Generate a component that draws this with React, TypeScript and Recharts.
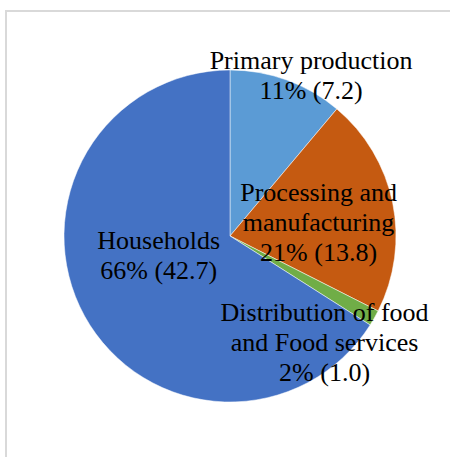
import React from "react";
import { PieChart, Pie, Cell } from "recharts";

const categories = [
  "Primary production",
  "Processing and manufacturing",
  "Distribution of food and Food services",
  "Households",
];
const values = [7.2, 13.8, 1.0, 42.7];
const colors = ["#5B9BD5", "#C55A11", "#70AD47", "#4472C4"];

// label line wrapping (styling)
const labelLines: string[][] = [
  ["Primary production"],
  ["Processing and", "manufacturing"],
  ["Distribution of food", "and Food services"],
  ["Households"],
];
// label offsets relative to the centroid at 0.6 radius (styling)
const labelOffsets = [
  { dx: 47, dy: -73 },
  { dx: -9, dy: -15 },
  { dx: 8, dy: 36 },
  { dx: 16, dy: -35 },
];

const total = values.reduce((a, b) => a + b, 0);
const data = categories.map((name, i) => ({ name, value: values[i] }));

const RAD = Math.PI / 180;
const FONT = "'Liberation Serif', 'Times New Roman', serif";

const renderLabel = (props: any) => {
  const { cx, cy, outerRadius, midAngle, index, value } = props;
  const r = outerRadius * 0.6;
  const bx = cx + r * Math.cos(-midAngle * RAD);
  const by = cy + r * Math.sin(-midAngle * RAD);
  const off = labelOffsets[index];
  const x = bx + off.dx;
  const y = by + off.dy;
  const pct = Math.round((value / total) * 100);
  const lines = [...labelLines[index], `${pct}% (${value.toFixed(1)})`];
  return (
    <text
      key={`lbl-${index}`}
      x={x}
      y={y}
      textAnchor="middle"
      fill="#000"
      fontFamily={FONT}
      fontSize={26}
    >
      {lines.map((l, k) => (
        <tspan key={k} x={x} y={y + k * 30}>
          {l}
        </tspan>
      ))}
    </text>
  );
};

export default function App() {
  return (
    <div
      style={{
        position: "absolute",
        left: 0,
        top: 0,
        width: 450,
        height: 457,
        overflow: "hidden",
        background: "#fff",
      }}
    >
      <div
        style={{
          position: "absolute",
          left: 5,
          top: 10,
          width: 600,
          height: 600,
          border: "2px solid #d9d9d9",
          boxSizing: "border-box",
        }}
      />
      <div style={{ position: "absolute", left: 0, top: 0 }}>
        <PieChart width={450} height={457} margin={{ top: 0, right: 0, bottom: 0, left: 0 }}>
          <Pie
            data={data}
            dataKey="value"
            nameKey="name"
            cx={230}
            cy={236}
            outerRadius={166}
            startAngle={90}
            endAngle={-270}
            stroke="#fff"
            strokeWidth={0.5}
            label={renderLabel}
            labelLine={false}
            isAnimationActive={false}
          >
            {data.map((d, i) => (
              <Cell key={d.name} fill={colors[i]} />
            ))}
          </Pie>
        </PieChart>
      </div>
    </div>
  );
}
